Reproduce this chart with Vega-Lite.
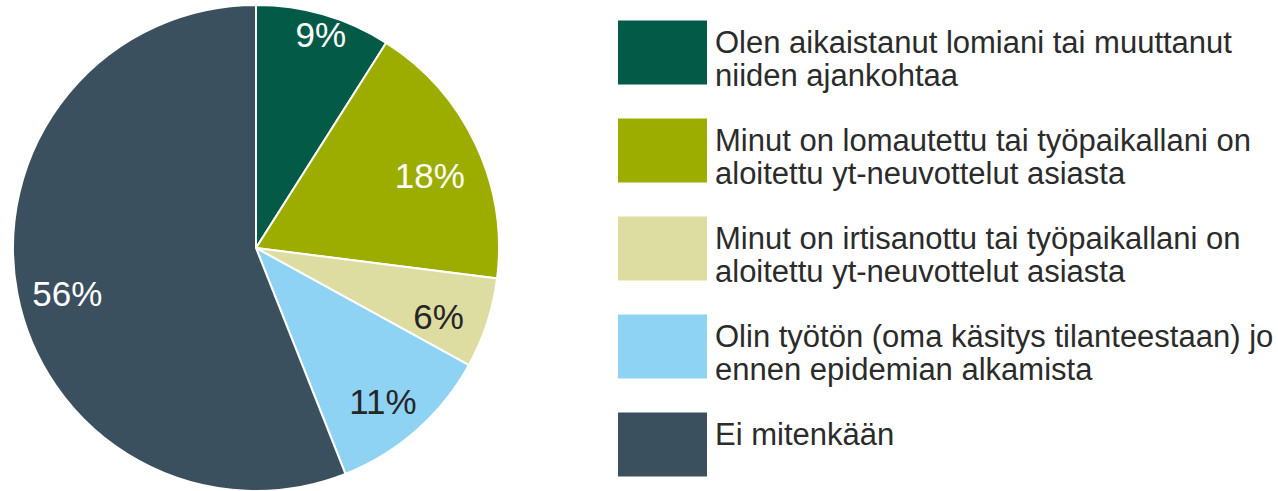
{
  "$schema": "https://vega.github.io/schema/vega-lite/v6.json",
  "autosize": {"type": "none"},
  "width": 486,
  "height": 486,
  "padding": {"left": 13, "top": 5, "right": 779, "bottom": 0},
  "background": "white",
  "data": {
    "values": [
      {"rank": 1, "category": "Olen aikaistanut lomiani tai muuttanut niiden ajankohtaa", "share": 0.09},
      {"rank": 2, "category": "Minut on lomautettu tai työpaikallani on aloitettu yt-neuvottelut asiasta", "share": 0.18},
      {"rank": 3, "category": "Minut on irtisanottu tai työpaikallani on aloitettu yt-neuvottelut asiasta", "share": 0.06},
      {"rank": 4, "category": "Olin työtön (oma käsitys tilanteestaan) jo ennen epidemian alkamista", "share": 0.11},
      {"rank": 5, "category": "Ei mitenkään", "share": 0.56}
    ]
  },
  "encoding": {
    "theta": {"field": "share", "type": "quantitative", "stack": true},
    "order": {"field": "rank", "type": "quantitative", "sort": "ascending"}
  },
  "layer": [
    {
      "mark": {"type": "arc", "stroke": "white", "strokeWidth": 2},
      "encoding": {
        "color": {
          "field": "category",
          "type": "nominal",
          "sort": [
            "Olen aikaistanut lomiani tai muuttanut niiden ajankohtaa",
            "Minut on lomautettu tai työpaikallani on aloitettu yt-neuvottelut asiasta",
            "Minut on irtisanottu tai työpaikallani on aloitettu yt-neuvottelut asiasta",
            "Olin työtön (oma käsitys tilanteestaan) jo ennen epidemian alkamista",
            "Ei mitenkään"
          ],
          "scale": {
            "domain": [
              "Olen aikaistanut lomiani tai muuttanut niiden ajankohtaa",
              "Minut on lomautettu tai työpaikallani on aloitettu yt-neuvottelut asiasta",
              "Minut on irtisanottu tai työpaikallani on aloitettu yt-neuvottelut asiasta",
              "Olin työtön (oma käsitys tilanteestaan) jo ennen epidemian alkamista",
              "Ei mitenkään"
            ],
            "range": ["#035B47", "#9DAD00", "#DDDDA2", "#8FD3F4", "#3A505F"]
          },
          "legend": {
            "title": null,
            "orient": "none",
            "legendX": 605,
            "legendY": 3,
            "padding": 0,
            "symbolType": "M-1,-0.72H1V0.72H-1Z",
            "symbolSize": 7921,
            "symbolStrokeWidth": 0,
            "symbolOpacity": 1,
            "labelFont": "Liberation Sans",
            "labelFontSize": 31,
            "labelColor": "#2b2b2b",
            "labelLimit": 0,
            "labelOffset": 8,
            "labelBaseline": "alphabetic",
            "rowPadding": 14,
            "labelExpr": "datum.label == 'Olen aikaistanut lomiani tai muuttanut niiden ajankohtaa' ? ['Olen aikaistanut lomiani tai muuttanut', 'niiden ajankohtaa'] : datum.label == 'Minut on lomautettu tai työpaikallani on aloitettu yt-neuvottelut asiasta' ? ['Minut on lomautettu tai työpaikallani on', 'aloitettu yt-neuvottelut asiasta'] : datum.label == 'Minut on irtisanottu tai työpaikallani on aloitettu yt-neuvottelut asiasta' ? ['Minut on irtisanottu tai työpaikallani on', 'aloitettu yt-neuvottelut asiasta'] : datum.label == 'Olin työtön (oma käsitys tilanteestaan) jo ennen epidemian alkamista' ? ['Olin työtön (oma käsitys tilanteestaan) jo', 'ennen epidemian alkamista'] : datum.label"
          }
        }
      }
    },
    {
      "mark": {
        "type": "text",
        "radius": {"expr": "datum.share == 0.09 ? 232 : 192"},
        "dy": 11,
        "font": "Liberation Sans",
        "fontSize": 35
      },
      "encoding": {
        "text": {"field": "share", "type": "quantitative", "format": ".0%"},
        "color": {
          "condition": {"test": "datum.share == 0.06 || datum.share == 0.11", "value": "#262626"},
          "value": "white"
        }
      }
    }
  ],
  "config": {"view": {"stroke": null}}
}
